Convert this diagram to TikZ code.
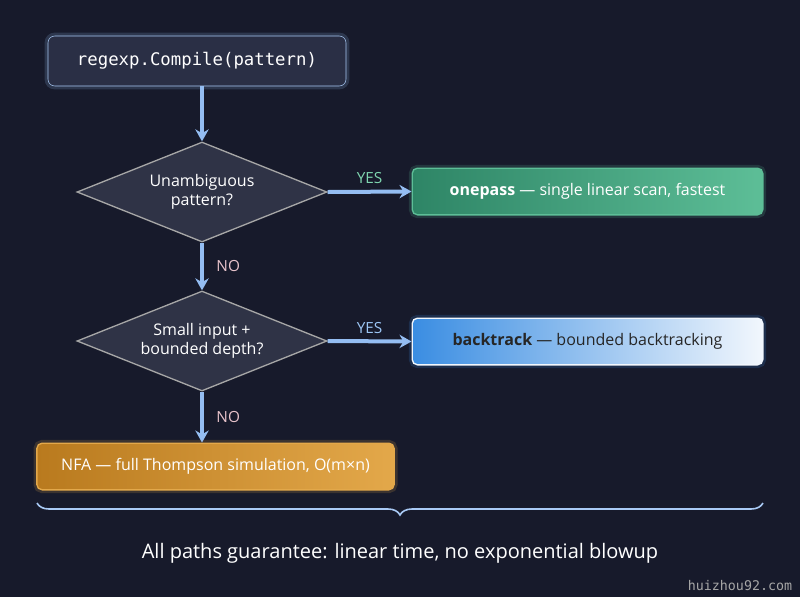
\documentclass[tikz,border=0pt]{standalone}
\usepackage{fontspec}
\setmainfont{Open Sans}
\newfontfamily\monofont{DejaVu Sans Mono}
\usetikzlibrary{shapes.geometric,arrows.meta,decorations.pathreplacing,positioning}
\definecolor{bgnavy}{HTML}{171A2B}
\definecolor{boxgray}{HTML}{2A2F45}
\definecolor{diagray}{HTML}{2F3346}
\definecolor{arrowblue}{HTML}{94BDF2}
\definecolor{yesgreen}{HTML}{7FD6B0}
\definecolor{yesblue}{HTML}{9CC6F5}
\definecolor{nopink}{HTML}{E8C3CB}
\definecolor{greenA}{HTML}{2E8566}
\definecolor{greenB}{HTML}{5DBE97}
\definecolor{blueA}{HTML}{3A8DE2}
\definecolor{blueB}{HTML}{F2F7FD}
\definecolor{orangeA}{HTML}{B97A1E}
\definecolor{orangeB}{HTML}{E3A84A}
\tikzset{
  glow/.style={preaction={draw=#1, line width=5pt, opacity=0.18}},
  flow/.style={-{Stealth[length=9pt,width=10pt]}, line width=3pt, arrowblue},
  decide/.style={diamond, draw=gray!70, fill=diagray, line width=1pt, inner sep=0pt,
    shape aspect=2.5, minimum width=187.5pt, minimum height=75pt, text=white, align=center,
    font=\fontsize{12}{14}\selectfont},
  result/.style={rectangle, rounded corners=4pt, minimum width=263pt, minimum height=35pt,
    line width=1pt, font=\fontsize{12}{14}\selectfont},
  lbl/.style={font=\fontsize{11.5}{13}\selectfont}
}
\begin{document}
\begin{tikzpicture}[x=0.75pt,y=-0.75pt]
  \fill[bgnavy] (0,0) rectangle (800,597);
  \useasboundingbox (0,0) rectangle (800,597);

  \node[rectangle, rounded corners=5pt, draw=arrowblue!80, glow=arrowblue, fill=boxgray,
    minimum width=223.5pt, minimum height=37.5pt, text=white,
    font=\monofont\fontsize{13}{15}\selectfont] (compile) at (197,61) {regexp.Compile(pattern)};

  \node[decide] (dec1) at (202,192) {Unambiguous\\pattern?};
  \node[decide] (dec2) at (202,341) {Small input +\\bounded depth?};

  \node[result, draw=greenB, glow=greenB, left color=greenA, right color=greenB, text=white]
    (onepass) at (587.5,191.5) {\textbf{onepass} — single linear scan, fastest};
  \node[result, draw=blueB, glow=blueA, left color=blueA, right color=blueB, text=black!85]
    (backtrack) at (587.5,341.5) {\textbf{backtrack} — bounded backtracking};
  \node[result, minimum width=268pt, draw=orangeB, glow=orangeB, left color=orangeA,
    right color=orangeB, text=white] (nfa) at (215.5,466.5)
    {NFA — full Thompson simulation, O(m×n)};

  % connectors
  \draw[flow] (compile.south -| dec1) -- (dec1.north);
  \draw[flow] (dec1.east) -- node[above, yshift=1pt, lbl, text=yesgreen] {YES} (onepass.west);
  \draw[flow] (dec1.south) -- node[right, xshift=6pt, lbl, text=nopink] {NO} (dec2.north);
  \draw[flow] (dec2.east) -- node[above, yshift=1pt, lbl, text=yesblue] {YES} (backtrack.west);
  \draw[flow] (dec2.south) -- node[right, xshift=6pt, lbl, text=nopink] {NO} (dec2.south |- nfa.north);

  % summary
  \coordinate (braceL) at (37,503);
  \coordinate (braceR) at (763,503);
  \draw[decorate, decoration={brace, mirror, amplitude=9pt}, line width=1.2pt, arrowblue!80]
    (braceL) -- (braceR);
  \node[text=white, font=\fontsize{15}{18}\selectfont] (summary) at (400,553)
    {All paths guarantee: linear time, no exponential blowup};
  \node[text=gray!70, font=\monofont\fontsize{10}{12}\selectfont] (mark) at (740,586) {huizhou92.com};
\end{tikzpicture}
\end{document}
